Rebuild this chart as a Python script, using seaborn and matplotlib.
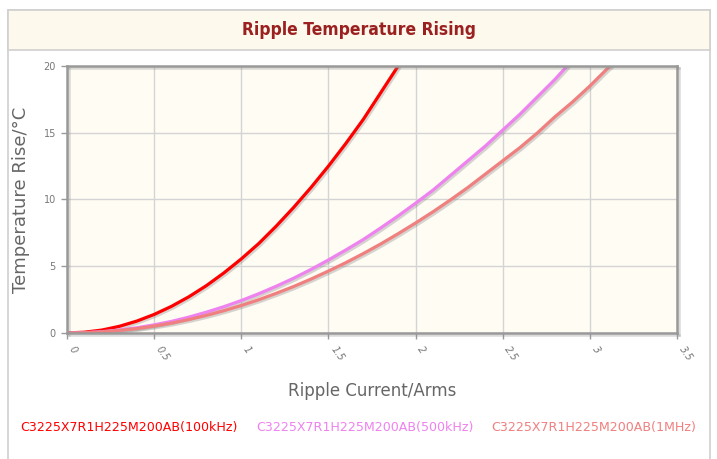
import numpy as np
import pandas as pd
import matplotlib
matplotlib.use("Agg")
import matplotlib.pyplot as plt
import matplotlib.patheffects as pe
from matplotlib.patches import Rectangle
import seaborn as sns

# values
x_100k = [0, 0.1, 0.2, 0.3, 0.4, 0.5, 0.6, 0.7, 0.8, 0.9, 1.0, 1.1, 1.2, 1.3, 1.4, 1.5, 1.6, 1.7, 1.8, 1.9]
y_100k = [0, 0.06, 0.22, 0.5, 0.89, 1.39, 2.0, 2.72, 3.55, 4.5, 5.55, 6.7, 8.0, 9.4, 10.9, 12.5, 14.2, 16.0, 18.0, 20.0]

x_500k = [0, 0.1, 0.2, 0.3, 0.4, 0.5, 0.6, 0.7, 0.8, 0.9, 1.0, 1.1, 1.2, 1.3, 1.4, 1.5, 1.6, 1.7, 1.8, 1.9,
          2.0, 2.1, 2.2, 2.3, 2.4, 2.5, 2.6, 2.7, 2.8, 2.87]
y_500k = [0, 0.02, 0.1, 0.22, 0.39, 0.61, 0.87, 1.19, 1.56, 1.97, 2.43, 2.94, 3.5, 4.1, 4.76, 5.47, 6.22, 7.0, 7.87, 8.77,
          9.72, 10.7, 11.8, 12.9, 14.0, 15.2, 16.4, 17.7, 19.0, 20.0]

x_1m = [0, 0.1, 0.2, 0.3, 0.4, 0.5, 0.6, 0.7, 0.8, 0.9, 1.0, 1.1, 1.2, 1.3, 1.4, 1.5, 1.6, 1.7, 1.8, 1.9,
        2.0, 2.1, 2.2, 2.3, 2.4, 2.5, 2.6, 2.7, 2.8, 2.9, 3.0, 3.1, 3.12]
y_1m = [0, 0.02, 0.08, 0.19, 0.33, 0.52, 0.74, 1.01, 1.32, 1.67, 2.06, 2.49, 2.97, 3.48, 4.04, 4.64, 5.27, 5.95, 6.67, 7.44,
        8.24, 9.08, 9.97, 10.9, 11.9, 12.9, 13.9, 15.0, 16.2, 17.3, 18.5, 19.8, 20.0]

series_names = ["C3225X7R1H225M200AB(100kHz)", "C3225X7R1H225M200AB(500kHz)", "C3225X7R1H225M200AB(1MHz)"]
colors = ["#ff0000", "#ee82ee", "#f08080"]
x_ticks = [0, 0.5, 1, 1.5, 2, 2.5, 3, 3.5]
y_ticks = [0, 5, 10, 15, 20]

df = pd.concat([
    pd.DataFrame({"current": x_100k, "rise": y_100k, "part": series_names[0]}),
    pd.DataFrame({"current": x_500k, "rise": y_500k, "part": series_names[1]}),
    pd.DataFrame({"current": x_1m, "rise": y_1m, "part": series_names[2]}),
])

sns.set_style("white")
fig = plt.figure(figsize=(7.17, 4.59), dpi=100)
W, H = 717, 459

# outer frame and title band (behind the axes)
fig.patches.append(Rectangle((8 / W, -0.1), 702 / W, 1.1 - 10 / H, transform=fig.transFigure,
                             facecolor="white", edgecolor="#d0d0d0", lw=1.2, zorder=-2))
fig.patches.append(Rectangle((8 / W, 1 - 50 / H), 702 / W, 40 / H, transform=fig.transFigure,
                             facecolor="#fdf9ec", edgecolor="#d0d0d0", lw=1.2, zorder=-1))
fig.text(0.5, 1 - 30 / H, "Ripple Temperature Rising", ha="center", va="center",
         fontsize=12.5, fontweight="bold", fontstretch="condensed", family="DejaVu Sans", color="#9b2020")

ax = fig.add_axes([67 / W, 1 - 333 / H, 610 / W, 267 / H])
ax.set_facecolor("#fffcf4")

sns.lineplot(data=df, x="current", y="rise", hue="part", palette=colors, ax=ax,
             linewidth=2.3, legend=False, sort=False)
for line in ax.lines:
    line.set_path_effects([pe.SimpleLineShadow(offset=(1.2, -1.2), shadow_color="#777777", alpha=0.3),
                           pe.Normal()])

ax.set_xlim(0, 3.5)
ax.set_ylim(0, 20)
ax.set_xticks(x_ticks)
ax.set_xticklabels([str(t) if t != int(t) else str(int(t)) for t in x_ticks],
                   rotation=-55, ha="left", va="top", fontsize=7, color="#777777", style="italic")
ax.set_yticks(y_ticks)
ax.set_yticklabels([str(t) for t in y_ticks], fontsize=7, color="#777777")
ax.tick_params(axis="both", length=4, width=1, color="#999999", pad=4, direction="out")
ax.tick_params(axis="x", bottom=True)
ax.tick_params(axis="y", left=True)
ax.grid(True, color="#d4d4d4", linewidth=1)
for s in ax.spines.values():
    s.set_color("#999999")
    s.set_linewidth(1.8)
    s.set_path_effects([pe.SimpleLineShadow(offset=(1.5, -1.5), shadow_color="#888888", alpha=0.3), pe.Normal()])

ax.set_xlabel("Ripple Current/Arms", fontsize=12, color="#666666", labelpad=14)
ax.set_ylabel("Temperature Rise/°C", fontsize=13, color="#666666", labelpad=10)

# legend as coloured text
legend_x = [20, 256, 491]
for name, col, lx in zip(series_names, colors, legend_x):
    fig.text(lx / W, 1 - 428 / H, name, color=col, fontsize=9.1, ha="left", va="center")

fig.savefig("out.png", dpi=100)
